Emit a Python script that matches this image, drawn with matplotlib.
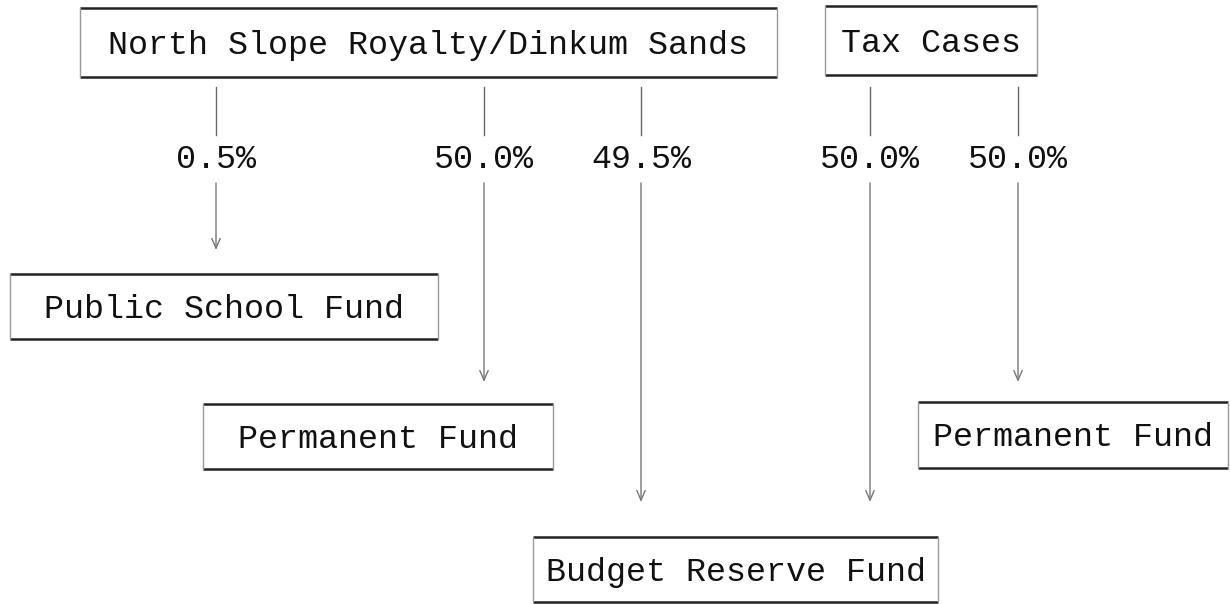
import matplotlib
matplotlib.use("Agg")
import matplotlib.pyplot as plt

# ---- data ----
box_labels = ["North Slope Royalty/Dinkum Sands", "Tax Cases", "Public School Fund",
              "Permanent Fund", "Permanent Fund", "Budget Reserve Fund"]
flow_sources = [0, 0, 0, 1, 1]
flow_targets = [2, 3, 5, 5, 4]
flow_shares = [0.5, 50.0, 49.5, 50.0, 50.0]

# ---- layout (pixel coordinates) ----
box_rects = [(80, 8, 777, 77), (825, 6, 1037, 75), (10, 274, 438, 339),
             (203, 404, 553, 469), (918, 402, 1228, 468), (533, 537, 938, 602)]
flow_x = [216, 484, 641, 870, 1018]
flow_end = [250, 382, 502, 502, 382]
line_top = 87
gap_top, gap_bot = 135, 183
label_y = 160

fig = plt.figure(figsize=(12.30, 6.04), dpi=100)
ax = fig.add_axes([0, 0, 1, 1])
ax.set_xlim(0, 1230)
ax.set_ylim(604, 0)
ax.axis("off")

font = dict(family="Liberation Mono", fontsize=24, color="#111111")

for (x0, y0, x1, y1), lab in zip(box_rects, box_labels):
    ax.plot([x0, x1], [y0, y0], color="#222222", lw=1.8, solid_capstyle="butt")
    ax.plot([x0, x1], [y1, y1], color="#222222", lw=1.8, solid_capstyle="butt")
    ax.plot([x0, x0], [y0, y1], color="#999999", lw=1.0)
    ax.plot([x1, x1], [y0, y1], color="#999999", lw=1.0)
    ax.text((x0 + x1) / 2, (y0 + y1) / 2 + 3, lab, ha="center", va="center", **font)

for x, yend, share in zip(flow_x, flow_end, flow_shares):
    ax.plot([x, x], [line_top, gap_top], color="#666666", lw=1.0)
    ax.annotate("", xy=(x, yend), xytext=(x, gap_bot),
                arrowprops=dict(arrowstyle="->,head_length=0.7,head_width=0.3",
                                color="#777777", lw=1.0, shrinkA=0, shrinkB=0))
    ax.text(x, label_y, f"{share:.1f}%", ha="center", va="center", **font)

fig.savefig("out.png", dpi=100, facecolor="white")
